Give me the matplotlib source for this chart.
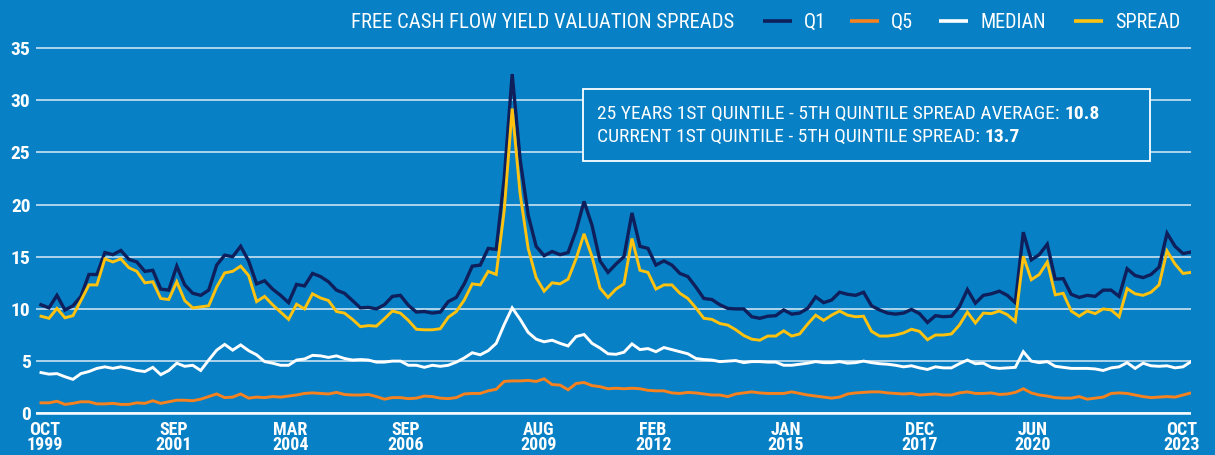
import matplotlib
matplotlib.use("Agg")
import matplotlib.pyplot as plt
from matplotlib import font_manager
from matplotlib.patches import Rectangle
import numpy as np

# free cash flow yield, one value every two months, Oct 1999 - Oct 2023
q1 = [10.4, 10.1, 11.3, 9.9, 10.3, 11.2, 13.3, 13.3, 15.4, 15.2,
      15.6, 14.75, 14.5, 13.6, 13.7, 11.9, 11.8, 14.1, 12.3, 11.5,
      11.3, 11.8, 14.2, 15.15, 15.0, 16.0, 14.6, 12.4, 12.7, 11.9,
      11.3, 10.6, 12.35, 12.2, 13.4, 13.1, 12.6, 11.8, 11.5, 10.8,
      10.1, 10.15, 10.0, 10.4, 11.2, 11.3, 10.35, 9.7, 9.75, 9.6,
      9.7, 10.7, 11.1, 12.4, 14.1, 14.2, 15.8, 15.7, 22.5, 32.5,
      24.3, 19.0, 16.0, 15.1, 15.5, 15.2, 15.4, 17.5, 20.3, 18.0,
      14.6, 13.5, 14.3, 15.0, 19.2, 16.0, 15.8, 14.2, 14.6, 14.2,
      13.4, 13.1, 12.1, 11.0, 10.9, 10.4, 10.05, 10.0, 10.0, 9.25,
      9.1, 9.3, 9.35, 9.9, 9.5, 9.6, 10.05, 11.15, 10.6, 10.85,
      11.6, 11.4, 11.3, 11.6, 10.3, 9.9, 9.6, 9.5, 9.6, 9.95,
      9.55, 8.7, 9.35, 9.25, 9.3, 10.2, 11.85, 10.55, 11.3, 11.45,
      11.7, 11.3, 10.6, 17.35, 14.7, 15.2, 16.2, 12.85, 12.9, 11.4,
      11.1, 11.3, 11.2, 11.8, 11.8, 11.2, 13.85, 13.2, 13.0, 13.3,
      14.0, 17.25, 16.0, 15.3, 15.45]

q5 = [1.0, 1.0, 1.15, 0.85, 0.95, 1.1, 1.1, 0.9, 0.9, 0.95,
      0.85, 0.85, 1.0, 0.95, 1.2, 0.95, 1.1, 1.25, 1.25, 1.2,
      1.35, 1.6, 1.85, 1.5, 1.55, 1.85, 1.45, 1.55, 1.5, 1.6,
      1.55, 1.65, 1.75, 1.9, 1.95, 1.9, 1.85, 2.0, 1.8, 1.75,
      1.75, 1.8, 1.6, 1.35, 1.5, 1.5, 1.4, 1.45, 1.65, 1.6,
      1.45, 1.4, 1.5, 1.85, 1.9, 1.9, 2.15, 2.3, 3.05, 3.1,
      3.1, 3.15, 3.05, 3.3, 2.75, 2.7, 2.25, 2.85, 2.95, 2.65,
      2.55, 2.35, 2.4, 2.35, 2.4, 2.35, 2.2, 2.15, 2.15, 1.95,
      1.9, 2.0, 1.95, 1.85, 1.75, 1.75, 1.6, 1.85, 1.95, 2.05,
      1.95, 1.9, 1.9, 1.9, 2.05, 1.9, 1.75, 1.65, 1.55, 1.45,
      1.55, 1.85, 1.95, 2.0, 2.05, 2.05, 1.95, 1.9, 1.85, 1.9,
      1.75, 1.8, 1.85, 1.75, 1.75, 1.95, 2.05, 1.9, 1.9, 1.95,
      1.8, 1.85, 2.0, 2.35, 1.95, 1.75, 1.65, 1.5, 1.45, 1.45,
      1.6, 1.35, 1.45, 1.55, 1.9, 1.95, 1.9, 1.75, 1.6, 1.5,
      1.55, 1.6, 1.55, 1.75, 1.95]

median = [3.9, 3.75, 3.8, 3.5, 3.25, 3.8, 4.0, 4.3, 4.45, 4.3,
          4.45, 4.3, 4.1, 4.0, 4.4, 3.7, 4.1, 4.8, 4.5, 4.6,
          4.1, 5.1, 6.05, 6.6, 6.05, 6.55, 6.0, 5.6, 4.95, 4.8,
          4.6, 4.6, 5.1, 5.2, 5.55, 5.5, 5.35, 5.5, 5.25, 5.1,
          5.15, 5.1, 4.9, 4.9, 5.0, 5.0, 4.6, 4.6, 4.4, 4.6,
          4.5, 4.6, 4.9, 5.3, 5.8, 5.6, 6.0, 6.7, 8.5, 10.1,
          9.0, 7.75, 7.1, 6.85, 7.0, 6.7, 6.45, 7.35, 7.55, 6.7,
          6.25, 5.7, 5.65, 5.85, 6.65, 6.1, 6.2, 5.9, 6.3, 6.1,
          5.9, 5.7, 5.25, 5.15, 5.1, 4.95, 5.0, 5.05, 4.85, 4.95,
          4.95, 4.9, 4.9, 4.6, 4.6, 4.7, 4.8, 4.95, 4.85, 4.85,
          4.95, 4.8, 4.85, 5.0, 4.85, 4.75, 4.7, 4.6, 4.45, 4.55,
          4.35, 4.2, 4.45, 4.35, 4.35, 4.75, 5.1, 4.75, 4.8, 4.4,
          4.3, 4.35, 4.4, 5.9, 5.0, 4.85, 4.95, 4.5, 4.4, 4.3,
          4.3, 4.3, 4.25, 4.1, 4.35, 4.45, 4.85, 4.3, 4.8, 4.55,
          4.5, 4.55, 4.35, 4.45, 4.95]

spread = [9.3, 9.1, 10.05, 9.15, 9.35, 10.8, 12.3, 12.3, 14.8, 14.5,
          14.8, 13.95, 13.6, 12.5, 12.6, 11.0, 10.9, 12.6, 10.8, 10.1,
          10.2, 10.3, 12.1, 13.45, 13.6, 14.1, 13.2, 10.7, 11.2, 10.4,
          9.7, 9.0, 10.45, 10.0, 11.45, 11.05, 10.8, 9.75, 9.6, 9.0,
          8.3, 8.4, 8.35, 9.05, 9.8, 9.6, 8.9, 8.05, 8.0, 8.0,
          8.1, 9.2, 9.75, 10.85, 12.4, 12.3, 13.6, 13.3, 19.4, 29.2,
          21.0, 15.8, 13.0, 11.7, 12.5, 12.4, 12.85, 14.8, 17.2, 15.0,
          12.0, 11.1, 11.9, 12.4, 16.75, 13.7, 13.5, 11.9, 12.3, 12.3,
          11.5, 11.0, 10.1, 9.1, 9.0, 8.6, 8.45, 8.0, 7.45, 7.1,
          7.0, 7.4, 7.4, 7.9, 7.4, 7.6, 8.55, 9.4, 8.9, 9.4,
          9.8, 9.4, 9.25, 9.3, 7.85, 7.4, 7.4, 7.5, 7.7, 8.05,
          7.85, 7.05, 7.5, 7.5, 7.6, 8.45, 9.7, 8.65, 9.6, 9.55,
          9.8, 9.45, 8.8, 15.05, 12.8, 13.3, 14.5, 11.35, 11.5, 9.8,
          9.3, 9.8, 9.55, 10.0, 9.9, 9.25, 11.95, 11.45, 11.3, 11.6,
          12.3, 15.55, 14.3, 13.4, 13.5]

tick_labels = ["OCT\n1999", "SEP\n2001", "MAR\n2004", "SEP\n2006", "AUG\n2009",
               "FEB\n2012", "JAN\n2015", "DEC\n2017", "JUN\n2020", "OCT\n2023"]
# where the labels sit, in months after Oct 1999
tick_months = [1.0, 33.3, 62.4, 91.2, 124.5, 153.3, 186.6, 220.1, 248.4, 285.7]

series_names = ["Q1", "Q5", "MEDIAN", "SPREAD"]
title = "FREE CASH FLOW YIELD VALUATION SPREADS"
box_lines = [("25 YEARS 1ST QUINTILE - 5TH QUINTILE SPREAD AVERAGE: ", "10.8"),
             ("CURRENT 1ST QUINTILE - 5TH QUINTILE SPREAD: ", "13.7")]

BG = "#0780c5"
NAVY = "#0e1f5b"
ORANGE = "#f5821f"
YELLOW = "#ffc20e"
W, H = 1215, 455

names = {f.name for f in font_manager.fontManager.ttflist}
narrow = [f for f in ("Roboto Condensed", "Liberation Sans Narrow") if f in names]
FONT = narrow[0] if narrow else "Roboto"
plt.rcParams["font.family"] = [FONT, "DejaVu Sans"]


def fx(x):
    return x / W


def fy(y):
    return 1 - y / H


months = np.arange(len(q1)) * 2

fig = plt.figure(figsize=(W / 100, H / 100), dpi=100, facecolor=BG)
ax = fig.add_axes([36 / W, 38.6 / H, 1155 / W, 371.5 / H], facecolor=BG)
ax.set_xlim(-1.25, 288)
ax.set_ylim(-0.3, 35.3)

for s in ax.spines.values():
    s.set_visible(False)

ax.set_yticks(range(0, 40, 5))
ax.yaxis.grid(True, color="white", lw=1.1, alpha=0.85)
ax.set_axisbelow(True)
ax.axhline(0, color="white", lw=1.8, zorder=1)
ax.tick_params(axis="y", length=0, pad=4, labelcolor="white", labelsize=14)
ax.set_xticks(tick_months, tick_labels)
ax.tick_params(axis="x", length=0, pad=3, labelcolor="white", labelsize=13)
for lbl in ax.get_yticklabels() + ax.get_xticklabels():
    lbl.set_fontweight("bold")
for lbl in ax.get_xticklabels():
    lbl.set_linespacing(0.82)

colors = [NAVY, ORANGE, "white", YELLOW]
widths = [2.4, 2.1, 2.1, 2.1]
for vals, c, lw in zip([q1, q5, median, spread], colors, widths):
    ax.plot(months, vals, color=c, lw=lw, solid_joinstyle="miter", zorder=3)

# title + legend row
t_title = ax.text(fx(734), fy(22), title, transform=fig.transFigure, ha="right",
                  va="center", color="white", fontsize=15, clip_on=False)
legend_x = [763, 850, 939, 1074]
for name, c, x0 in zip(series_names, colors, legend_x):
    ax.plot([fx(x0), fx(x0 + 29)], [fy(21), fy(21)], color=c, lw=2.6,
            transform=fig.transFigure, clip_on=False, solid_capstyle="butt")
    ax.text(fx(x0 + 41), fy(22), name, transform=fig.transFigure, ha="left",
            va="center", color="white", fontsize=14.5, clip_on=False)

# annotation box
ax.add_patch(Rectangle((fx(583), fy(161)), fx(1150) - fx(583), fy(89) - fy(161),
                       transform=fig.transFigure, facecolor=BG, edgecolor="white",
                       lw=1.3, zorder=5, clip_on=False))
box_texts = []
for (plain, bold), yc in zip(box_lines, [114, 137]):
    t = ax.text(fx(597), fy(yc), plain, transform=fig.transFigure, ha="left",
                va="center", color="white", fontsize=14, zorder=6, clip_on=False)
    b = ax.annotate(bold, xy=(1, 0), xycoords=t, ha="left", va="bottom",
                    color="white", fontsize=14, fontweight="bold", zorder=6)
    box_texts.append((t, b))

# squeeze the texts to the widths they take in the original
fig.canvas.draw()
r = fig.canvas.get_renderer()
k = 384 / t_title.get_window_extent(r).width
if k < 1:
    t_title.set_fontsize(15 * k)
t, b = box_texts[0]
k = 536 / (t.get_window_extent(r).width + b.get_window_extent(r).width)
if k < 1:
    for t, b in box_texts:
        t.set_fontsize(14 * k)
        b.set_fontsize(14 * k)

fig.savefig("out.png", dpi=100, facecolor=BG)
